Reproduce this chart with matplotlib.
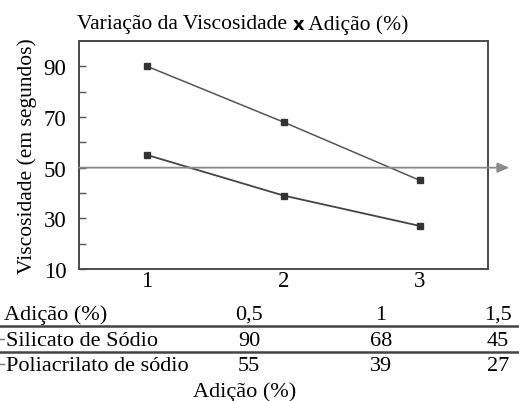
import matplotlib
matplotlib.use("Agg")
import matplotlib.pyplot as plt
from matplotlib.lines import Line2D

# data
positions = [1, 2, 3]
adicao_labels = ["0,5", "1", "1,5"]
silicato = [90, 68, 45]
poliacrilato = [55, 39, 27]
ref_level = 50

plt.rcParams["font.family"] = ["Liberation Serif", "DejaVu Serif"]

W, H = 519, 402
fig = plt.figure(figsize=(W / 100, H / 100), dpi=100)
ax = fig.add_axes([79 / W, 1 - 270 / H, (488 - 79) / W, (270 - 42) / H])

line_col = "#555555"
ax.plot(positions, silicato, color=line_col, lw=1.1, marker="s", ms=4.5,
        mfc="#333333", mec="#333333")
ax.plot(positions, poliacrilato, color="#444444", lw=1.3, marker="s", ms=4.5,
        mfc="#333333", mec="#333333")

ax.set_xlim(0.5, 3.5)
ax.set_ylim(10, 100)
ax.set_xticks(positions)
ax.set_xticklabels([str(p) for p in positions])
ax.set_yticks([10, 30, 50, 70, 90])
ax.set_yticks([20, 40, 60, 80], minor=True)
ax.tick_params(axis="y", which="both", direction="in", length=5, width=1,
               color=line_col, labelsize=16.5, pad=9)
ax.tick_params(axis="x", length=0, labelsize=16.5, pad=1)
for s in ax.spines.values():
    s.set_color("#4a4a4a")
    s.set_linewidth(1.4)
ax.set_ylabel("Viscosidade (em segundos)", fontsize=15.5, labelpad=5)

# reference line with arrow past the right spine
ax.annotate("", xy=(1.052, ref_level), xycoords=("axes fraction", "data"),
            xytext=(0, ref_level), textcoords=("axes fraction", "data"),
            arrowprops=dict(arrowstyle="-|>,head_length=0.7,head_width=0.3",
                            color="#8a8a8a", lw=1.3, shrinkA=0, shrinkB=0),
            annotation_clip=False)

# title in three pieces, the "x" in a bold sans face
renderer = fig.canvas.get_renderer()
ty = 1 - 25 / H
xpos = 77
pieces = [("Variação da Viscosidade ", {}),
          ("x", {"family": "DejaVu Sans", "weight": "bold", "fontsize": 13}),
          (" Adição (%)", {})]
for txt, kw in pieces:
    opts = {"fontsize": 15.5}
    opts.update(kw)
    t = fig.text(xpos / W, ty, txt, ha="left", va="center", **opts)
    xpos += t.get_window_extent(renderer).width

# table under the chart (baselines in pixels from the top)
col_x = [249 / W, 381 / W, 498 / W]
rows = [("Adição (%)", adicao_labels, 320),
        ("Silicato de Sódio", [str(v) for v in silicato], 346),
        ("Poliacrilato de sódio", [str(v) for v in poliacrilato], 371)]
for i, (name, vals, ypx) in enumerate(rows):
    y = 1 - ypx / H
    x0 = 4 / W if i == 0 else 6 / W
    fig.text(x0, y, name, ha="left", va="baseline", fontsize=16)
    for cx, v in zip(col_x, vals):
        fig.text(cx, y, v, ha="center", va="baseline", fontsize=16)
    if i > 0:
        yd = 1 - (ypx - 6) / H
        fig.add_artist(Line2D([0, 4 / W], [yd, yd], color="#777777", lw=1))

for ypx in (327, 353):
    y = 1 - ypx / H
    fig.add_artist(Line2D([0, 1], [y, y], color="#444444", lw=1.8))

fig.text(245 / W, 1 - 397 / H, "Adição (%)", ha="center", va="baseline", fontsize=16)

fig.savefig("out.png", dpi=100)
